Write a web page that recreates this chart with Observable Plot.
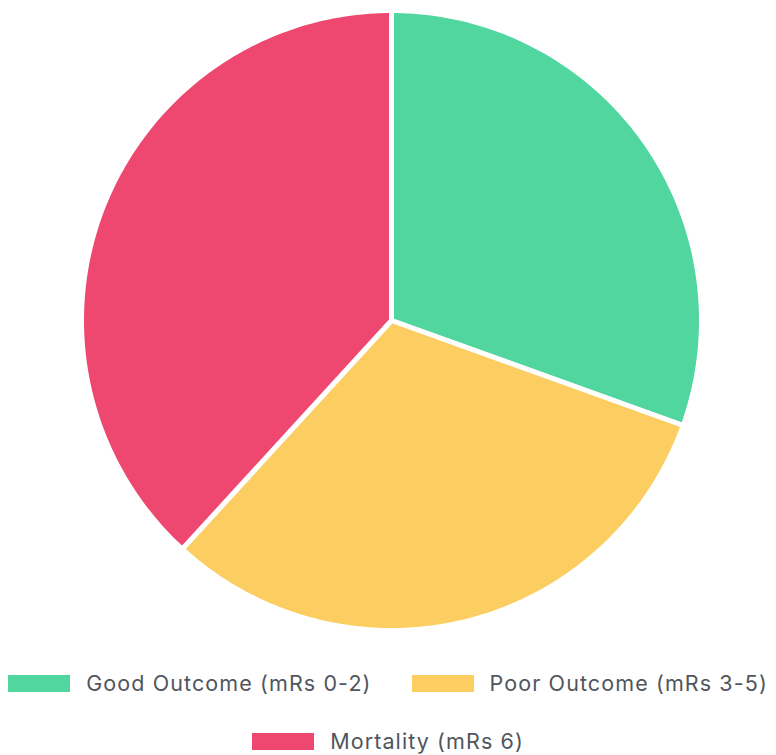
<!DOCTYPE html>
<html>
<head>
<meta charset="utf-8">
<script src="https://cdn.jsdelivr.net/npm/d3@7"></script>
<script src="https://cdn.jsdelivr.net/npm/@observablehq/plot@0.6"></script>
<style>
  html, body { margin: 0; padding: 0; background: #fff; }
  #chart { width: 776px; }
  #legend {
    width: 776px; box-sizing: border-box; padding-top: 14px;
    display: flex; flex-wrap: wrap; justify-content: center; column-gap: 40px;
    font-family: Inter, "Noto Sans", sans-serif; font-size: 21.5px; letter-spacing: 1.1px; color: #50565c;
  }
  .item { display: flex; align-items: center; height: 58px; }
  .sw { width: 62px; height: 17px; margin-right: 16px; }
</style>
</head>
<body>
<div id="chart"></div>
<div id="legend"></div>
<script>
const names = ["Good Outcome (mRs 0-2)", "Poor Outcome (mRs 3-5)", "Mortality (mRs 6)"];
const values = [30.5, 31.3, 38.2];
const colors = ["#52d6a0", "#fcce62", "#ee4770"];

const rows = names.map((name, i) => ({name, value: values[i]}));
const arcs = d3.pie().sort(null).value(d => d.value)(rows);

// polygon outline for each slice (center -> arc -> center), in unit coordinates
const pts = [];
for (const a of arcs) {
  const n = Math.max(2, Math.ceil((a.endAngle - a.startAngle) / (Math.PI / 180)));
  pts.push({name: a.data.name, x: 0, y: 0});
  for (let k = 0; k <= n; k++) {
    const t = a.startAngle + (a.endAngle - a.startAngle) * k / n;
    pts.push({name: a.data.name, x: Math.sin(t), y: Math.cos(t)});
  }
  pts.push({name: a.data.name, x: 0, y: 0});
}

const chart = Plot.plot({
  width: 776,
  height: 640,
  marginLeft: 81,
  marginRight: 75,
  marginTop: 10,
  marginBottom: 10,
  x: {domain: [-1, 1], axis: null},
  y: {domain: [-1, 1], axis: null},
  color: {domain: names, range: colors},
  marks: [
    Plot.line(pts, {
      x: "x", y: "y", z: "name", fill: "name",
      stroke: "white", strokeWidth: 5, strokeLinejoin: "round"
    })
  ]
});
document.getElementById("chart").appendChild(chart);

const legend = document.getElementById("legend");
names.forEach((n, i) => {
  const item = document.createElement("div");
  item.className = "item";
  const sw = document.createElement("div");
  sw.className = "sw";
  sw.style.background = chart.scale("color").apply(n);
  const tx = document.createElement("span");
  tx.textContent = n;
  item.appendChild(sw);
  item.appendChild(tx);
  legend.appendChild(item);
});
</script>
</body>
</html>
